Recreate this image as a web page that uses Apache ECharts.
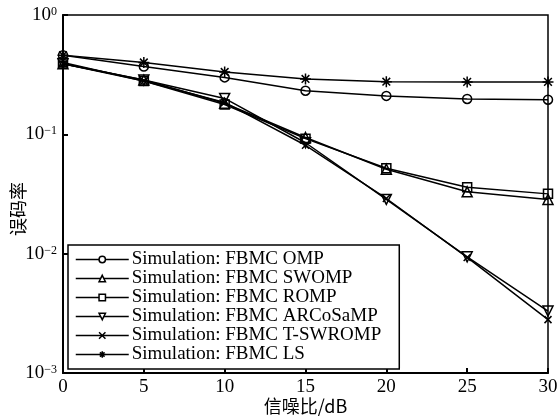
<!DOCTYPE html>
<html>
<head>
<meta charset="utf-8">
<script src="https://cdn.jsdelivr.net/npm/echarts@6/dist/echarts.min.js"></script>
<style>
  html, body { margin: 0; padding: 0; background: #fff; }
  #vis { width: 560px; height: 420px; }
</style>
</head>
<body>
<div id="vis"></div>
<script>
// values (BER vs SNR)
const snr = [0, 5, 10, 15, 20, 25, 30];
const omp = [0.46, 0.37, 0.30, 0.232, 0.21, 0.198, 0.195];
const swomp = [0.39, 0.285, 0.182, 0.094, 0.051, 0.033, 0.0285];
const romp = [0.40, 0.28, 0.178, 0.092, 0.052, 0.036, 0.0317];
const arcosamp = [0.39, 0.285, 0.20, 0.085, 0.0285, 0.0094, 0.0033];
const tswromp = [0.39, 0.28, 0.185, 0.081, 0.029, 0.0093, 0.0028];
const ls = [0.46, 0.40, 0.333, 0.291, 0.276, 0.275, 0.275];
const names = [
  "Simulation: FBMC OMP",
  "Simulation: FBMC SWOMP",
  "Simulation: FBMC ROMP",
  "Simulation: FBMC ARCoSaMP",
  "Simulation: FBMC T-SWROMP",
  "Simulation: FBMC LS"
];

const serif = "Liberation Serif";
const vis = document.getElementById("vis");
const chart = echarts.init(vis);

const crossPath = "path://M0,0L10,10M10,0L0,10";
const starPath = "path://M5,0L5,10M0,5L10,5M1.5,1.5L8.5,8.5M8.5,1.5L1.5,8.5";

function makeSeries(name, values, symbol, size, rotate) {
  return {
    name: name,
    type: "line",
    data: snr.map((x, i) => [x, values[i]]),
    symbol: symbol,
    symbolSize: size,
    symbolRotate: rotate || 0,
    showAllSymbol: true,
    lineStyle: { color: "#000", width: 1.5 },
    itemStyle: { color: "transparent", borderColor: "#000", borderWidth: 1.5 },
    emphasis: { disabled: true },
    z: 3
  };
}

const series = [
  makeSeries(names[0], omp, "circle", 9),
  makeSeries(names[1], swomp, "triangle", 10),
  makeSeries(names[2], romp, "rect", 9),
  makeSeries(names[3], arcosamp, "triangle", 10, 180),
  makeSeries(names[4], tswromp, crossPath, 7),
  makeSeries(names[5], ls, starPath, 11)
];

const sup = { "0": "0", "-1": "\u22121", "-2": "\u22122", "-3": "\u22123" };

const options = {
  animation: false,
  grid: {
    left: 63, right: 12, top: 15, bottom: 47,
    containLabel: false,
    outerBoundsMode: "none",
    show: true, borderColor: "#000", borderWidth: 1.5
  },
  legend: {
    data: names,
    orient: "vertical",
    left: 68,
    top: 245,
    width: 327,
    padding: [5, 18, 5, 7],
    itemGap: 0,
    itemWidth: 53,
    itemHeight: 8,
    itemStyle: { color: "#fff", borderColor: "#000", borderWidth: 1.5 },
    lineStyle: { color: "#000", width: 1.5 },
    borderColor: "#000",
    borderWidth: 1.5,
    backgroundColor: "#fff",
    textStyle: { fontFamily: serif, fontSize: 19, color: "#000", lineHeight: 17.6, padding: [0, 0, 0, -2] }
  },
  xAxis: {
    type: "value",
    min: 0,
    max: 30,
    interval: 5,
    name: "信噪比/dB",
    nameLocation: "middle",
    nameGap: 24,
    nameMoveOverlap: false,
    nameTextStyle: { fontFamily: "Noto Sans CJK SC", fontSize: 18, color: "#000" },
    axisLine: { lineStyle: { color: "#000", width: 2 } },
    axisTick: { inside: true, length: 5, lineStyle: { color: "#000", width: 2 } },
    axisLabel: { fontFamily: serif, fontSize: 19, color: "#000", margin: 5 },
    splitLine: { show: false }
  },
  yAxis: {
    type: "log",
    logBase: 10,
    min: 0.001,
    max: 1,
    name: "误码率",
    nameLocation: "middle",
    nameGap: 36,
    nameMoveOverlap: false,
    nameTextStyle: { fontFamily: "Noto Sans CJK SC", fontSize: 18, color: "#000", padding: [0, 30, 0, 0] },
    axisLine: { lineStyle: { color: "#000", width: 2 } },
    axisTick: { inside: true, length: 5, lineStyle: { color: "#000", width: 2 } },
    minorTick: { show: false },
    splitLine: { show: false },
    axisLabel: {
      margin: 6,
      formatter: function(value) {
        const e = Math.round(Math.log10(value));
        return "{b|10}{s|" + sup[String(e)] + "}";
      },
      rich: {
        b: { fontFamily: serif, fontSize: 19, color: "#000", lineHeight: 18 },
        s: { fontFamily: serif, fontSize: 12, color: "#000", verticalAlign: "top", lineHeight: 12 }
      }
    }
  },
  series: series
};

chart.setOption(options);
</script>
</body>
</html>
